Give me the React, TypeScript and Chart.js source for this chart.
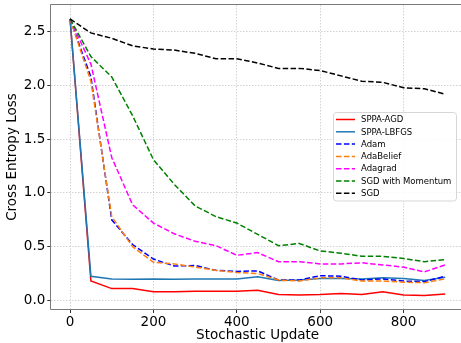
import React, { useEffect, useRef } from "react";
import { Chart, registerables } from "chart.js";

Chart.register(...registerables);

const steps = [0, 50, 100, 150, 200, 250, 300, 350, 400, 450, 500, 550, 600, 650, 700, 750, 800, 850, 900];

const sppaAgd = [2.62, 0.18, 0.11, 0.11, 0.08, 0.08, 0.085, 0.085, 0.085, 0.095, 0.055, 0.05, 0.055, 0.065, 0.055, 0.08, 0.05, 0.045, 0.06];
const sppaLbfgs = [2.62, 0.224, 0.2, 0.197, 0.2, 0.197, 0.2, 0.2, 0.2, 0.22, 0.185, 0.19, 0.205, 0.205, 0.2, 0.21, 0.205, 0.185, 0.215];
const adam = [2.62, 2.08, 0.75, 0.52, 0.385, 0.32, 0.325, 0.28, 0.27, 0.275, 0.19, 0.19, 0.23, 0.225, 0.19, 0.2, 0.18, 0.175, 0.225];
const adaBelief = [2.62, 2.04, 0.78, 0.5, 0.355, 0.34, 0.31, 0.28, 0.26, 0.25, 0.19, 0.18, 0.21, 0.21, 0.18, 0.18, 0.17, 0.165, 0.2];
const adagrad = [2.62, 2.2, 1.33, 0.89, 0.72, 0.62, 0.55, 0.51, 0.42, 0.445, 0.36, 0.36, 0.34, 0.34, 0.35, 0.33, 0.31, 0.265, 0.33];
const sgdMomentum = [2.62, 2.27, 2.08, 1.72, 1.31, 1.08, 0.88, 0.78, 0.72, 0.615, 0.51, 0.53, 0.46, 0.44, 0.41, 0.41, 0.39, 0.36, 0.38];
const sgd = [2.62, 2.49, 2.44, 2.37, 2.34, 2.33, 2.3, 2.25, 2.25, 2.21, 2.16, 2.16, 2.14, 2.09, 2.04, 2.03, 1.98, 1.97, 1.92];

const seriesNames = ["SPPA-AGD", "SPPA-LBFGS", "Adam", "AdaBelief", "Adagrad", "SGD with Momentum", "SGD"];
const seriesData = [sppaAgd, sppaLbfgs, adam, adaBelief, adagrad, sgdMomentum, sgd];
const seriesColors = ["#ff0000", "#1f77b4", "#0000ff", "#ff7f0e", "#ff00ff", "#008000", "#000000"];
const seriesDashed = [false, false, true, true, true, true, true];

const xTicks = [0, 200, 400, 600, 800];
const yTicks = [0, 0.5, 1.0, 1.5, 2.0, 2.5];

const FONT = "'DejaVu Sans', sans-serif";
const DASH = [5.5, 2.4];

const framePlugin = {
  id: "frame",
  afterDatasetsDraw(chart: any) {
    const { ctx, chartArea } = chart;
    const l = Math.round(chartArea.left) - 0.5;
    const t = Math.round(chartArea.top) - 0.5;
    const b = Math.round(chartArea.bottom) + 0.5;
    const r = chartArea.right;
    ctx.save();
    ctx.strokeStyle = "#7a7a7a";
    ctx.lineWidth = 1;
    ctx.beginPath();
    ctx.moveTo(r, t);
    ctx.lineTo(l, t);
    ctx.lineTo(l, b);
    ctx.lineTo(r, b);
    ctx.stroke();
    ctx.restore();
  },
};

const legendPlugin = {
  id: "customLegend",
  afterDraw(chart: any) {
    const { ctx } = chart;
    const x0 = 333.5;
    const y0 = 112.5;
    const w = 123;
    const h = 88.5;
    ctx.save();
    ctx.beginPath();
    if ((ctx as any).roundRect) (ctx as any).roundRect(x0, y0, w, h, 3);
    else ctx.rect(x0, y0, w, h);
    ctx.fillStyle = "rgba(255,255,255,0.85)";
    ctx.fill();
    ctx.strokeStyle = "#d6d6d6";
    ctx.lineWidth = 1;
    ctx.stroke();
    ctx.font = `8.5px ${FONT}`;
    ctx.textBaseline = "middle";
    ctx.textAlign = "left";
    seriesNames.forEach((name, i) => {
      const y = 119.5 + i * 12.3;
      ctx.beginPath();
      ctx.strokeStyle = seriesColors[i];
      ctx.lineWidth = 1.5;
      ctx.setLineDash(seriesDashed[i] ? DASH : []);
      ctx.moveTo(336, y);
      ctx.lineTo(355, y);
      ctx.stroke();
      ctx.setLineDash([]);
      ctx.fillStyle = "#000";
      ctx.fillText(name, 361, y + 0.5);
    });
    ctx.restore();
  },
};

export default function App() {
  const canvasRef = useRef<HTMLCanvasElement | null>(null);

  useEffect(() => {
    const canvas = canvasRef.current;
    if (!canvas) return;
    const datasets = seriesNames.map((name, i) => ({
      label: name,
      data: steps.map((s, j) => ({ x: s, y: seriesData[i][j] })),
      borderColor: seriesColors[i],
      backgroundColor: seriesColors[i],
      borderWidth: 1.5,
      borderDash: seriesDashed[i] ? DASH : [],
      pointRadius: 0,
      tension: 0,
      fill: false,
      order: seriesNames.length - i,
    }));

    const chart = new Chart(canvas, {
      type: "line",
      data: { datasets },
      options: {
        animation: false,
        responsive: false,
        devicePixelRatio: 1,
        layout: { padding: { top: 5, right: -2, left: 0, bottom: 0 } },
        plugins: { legend: { display: false }, tooltip: { enabled: false } },
        scales: {
          x: {
            type: "linear",
            min: -45,
            max: 945,
            afterFit(scale: any) {
              scale.height = 34;
              scale.paddingLeft = 0;
              scale.paddingRight = 0;
            },
            afterBuildTicks(scale: any) {
              scale.ticks = xTicks.map((v) => ({ value: v }));
            },
            ticks: {
              font: { family: FONT, size: 13.5 },
              color: "#000",
              padding: 1,
              maxRotation: 0,
              callback: (v: any) => String(v),
            },
            grid: {
              color: "#c8c8c8",
              lineWidth: 0.8,
              tickLength: 4,
              tickColor: "#333",
              tickWidth: 1,
            },
            border: { display: true, width: 0, dash: [1.5, 1.5] },
            title: {
              display: true,
              text: "Stochastic Update",
              font: { family: FONT, size: 13.5 },
              color: "#000",
              padding: { top: 0, bottom: -0.5 },
            },
          },
          y: {
            type: "linear",
            min: -0.08,
            max: 2.75,
            afterFit(scale: any) {
              scale.width = 51.3;
              scale.paddingTop = 0;
              scale.paddingBottom = 0;
            },
            afterBuildTicks(scale: any) {
              scale.ticks = yTicks.map((v) => ({ value: v }));
            },
            ticks: {
              font: { family: FONT, size: 13.5 },
              color: "#000",
              padding: 2,
              callback: (v: any) => Number(v).toFixed(1),
            },
            grid: {
              color: "#c8c8c8",
              lineWidth: 0.8,
              tickLength: 4,
              tickColor: "#333",
              tickWidth: 1,
            },
            border: { display: true, width: 0, dash: [1.5, 1.5] },
            title: {
              display: true,
              text: "Cross Entropy Loss",
              font: { family: FONT, size: 13.5 },
              color: "#000",
              padding: { top: 4.7, bottom: 0 },
            },
          },
        },
      },
      plugins: [framePlugin, legendPlugin],
    });
    return () => chart.destroy();
  }, []);

  return (
    <div style={{ position: "fixed", left: 0, top: 0, width: 461, height: 343, overflow: "hidden", background: "#fff" }}>
      <canvas ref={canvasRef} width={464} height={343} style={{ display: "block", width: 464, height: 343 }} />
    </div>
  );
}
